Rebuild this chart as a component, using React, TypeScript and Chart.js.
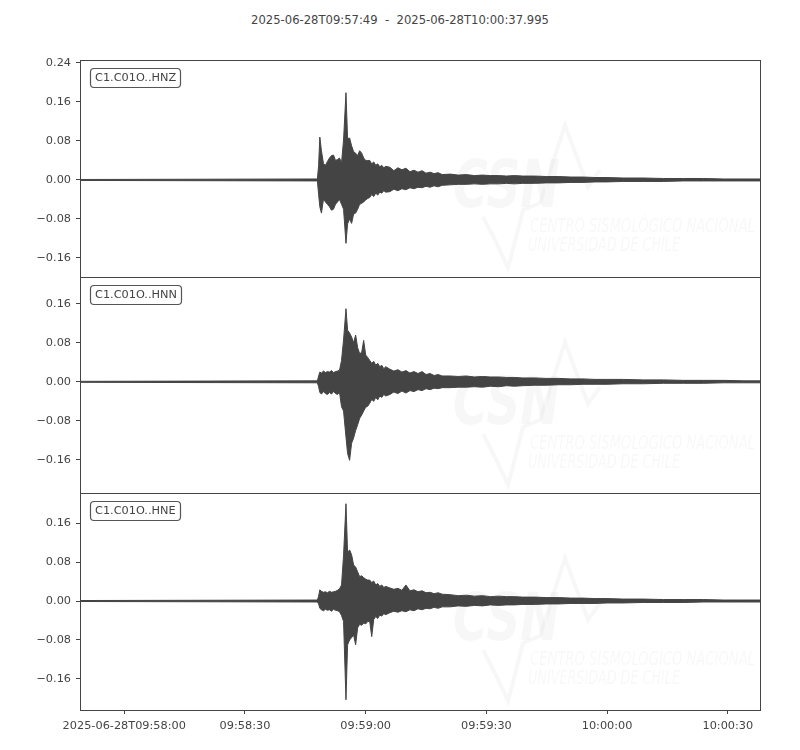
import React, { useEffect, useRef } from "react";
import { Chart, registerables } from "chart.js";

Chart.register(...registerables);

// ---------------- data ----------------
const TITLE = "2025-06-28T09:57:49  -  2025-06-28T10:00:37.995";
const CHANNELS = ["C1.C01O..HNZ", "C1.C01O..HNN", "C1.C01O..HNE"];

// seconds since 2025-06-28T09:57:49
const X_MAX = 168.995;
const X_TICK_SECONDS = [11, 41, 71, 101, 131, 161];
const X_TICK_LABELS = ["2025-06-28T09:58:00", "09:58:30", "09:59:00", "09:59:30", "10:00:00", "10:00:30"];

const Y_TICKS_HNZ = [-0.16, -0.08, 0, 0.08, 0.16, 0.24];
const Y_TICKS_HNN = [-0.16, -0.08, 0, 0.08, 0.16];
const Y_TICKS_HNE = [-0.16, -0.08, 0, 0.08, 0.16];
const Y_RANGE_HNZ = [-0.199, 0.246];
const Y_RANGE_HNN = [-0.228, 0.215];
const Y_RANGE_HNE = [-0.224, 0.222];

// time of each envelope sample (s since 09:57:49)
const TIMES = [
  0, 59.0, 59.3, 59.6, 60.0,
  60.5, 61.0, 61.5, 62.0, 62.5, 63.0, 63.5, 64.0, 64.5, 65.0, 65.5, 66.1, 66.5, 67.0, 67.5, 68.0,
  68.5, 69.0, 69.5, 70.0, 70.5, 71.0, 71.5, 72.0, 72.5, 73.0, 73.5, 74.0, 74.5, 75.0, 75.5, 76.0,
  77, 78, 79, 80, 81, 82, 83, 84, 85, 86, 87, 88, 89, 90,
  92, 94, 96, 98, 100, 102, 104, 106, 108, 110,
  113, 116, 119, 122, 125, 128, 131,
  135, 140, 145, 150, 155, 160, 165, 169,
];

// envelope of the trace (upper / lower)
const HNZ_UPPER = [
  0.001, 0.002, 0.03, 0.088, 0.06,
  0.034, 0.03, 0.038, 0.045, 0.05, 0.051, 0.04, 0.042, 0.045, 0.035, 0.082, 0.179, 0.085, 0.086, 0.07, 0.058,
  0.055, 0.05, 0.06, 0.055, 0.045, 0.04, 0.04, 0.04, 0.033, 0.037, 0.03, 0.033, 0.027, 0.03, 0.025, 0.028,
  0.026, 0.019, 0.025, 0.021, 0.024, 0.017, 0.02, 0.016, 0.019, 0.014, 0.016, 0.013, 0.015, 0.011,
  0.012, 0.01, 0.011, 0.009, 0.01, 0.009, 0.009, 0.008, 0.009, 0.008,
  0.008, 0.007, 0.007, 0.006, 0.006, 0.005, 0.005,
  0.004, 0.004, 0.003, 0.003, 0.003, 0.002, 0.002, 0.002,
];
const HNZ_LOWER = [
  -0.001, -0.002, -0.03, -0.055, -0.068,
  -0.04, -0.045, -0.05, -0.055, -0.062, -0.06, -0.05, -0.045, -0.04, -0.05, -0.06, -0.13, -0.09, -0.08, -0.089, -0.07,
  -0.068, -0.06, -0.05, -0.048, -0.045, -0.041, -0.038, -0.036, -0.03, -0.034, -0.027, -0.031, -0.025, -0.027, -0.022, -0.025,
  -0.024, -0.019, -0.022, -0.018, -0.02, -0.016, -0.018, -0.015, -0.016, -0.013, -0.015, -0.012, -0.014, -0.011,
  -0.01, -0.009, -0.009, -0.008, -0.009, -0.008, -0.008, -0.007, -0.008, -0.007,
  -0.007, -0.006, -0.006, -0.005, -0.005, -0.004, -0.004,
  -0.003, -0.003, -0.003, -0.002, -0.002, -0.002, -0.002, -0.002,
];
const HNN_UPPER = [
  0.001, 0.002, 0.012, 0.02, 0.018,
  0.022, 0.019, 0.021, 0.02, 0.023, 0.019, 0.021, 0.022, 0.024, 0.044, 0.086, 0.15, 0.106, 0.1, 0.092, 0.08,
  0.096, 0.07, 0.058, 0.06, 0.085, 0.055, 0.05, 0.044, 0.038, 0.042, 0.034, 0.038, 0.031, 0.034, 0.027, 0.031,
  0.026, 0.022, 0.025, 0.02, 0.023, 0.018, 0.021, 0.017, 0.021, 0.015, 0.017, 0.013, 0.015, 0.012,
  0.012, 0.011, 0.012, 0.01, 0.011, 0.01, 0.01, 0.009, 0.009, 0.008,
  0.008, 0.007, 0.007, 0.006, 0.006, 0.005, 0.005,
  0.005, 0.004, 0.004, 0.003, 0.003, 0.003, 0.002, 0.002,
];
const HNN_LOWER = [
  -0.001, -0.002, -0.01, -0.022, -0.025,
  -0.02, -0.024, -0.026, -0.022, -0.025, -0.02, -0.024, -0.026, -0.022, -0.051, -0.06, -0.113, -0.147, -0.161, -0.126, -0.115,
  -0.1, -0.088, -0.075, -0.068, -0.06, -0.052, -0.05, -0.044, -0.036, -0.04, -0.032, -0.037, -0.029, -0.032, -0.026, -0.029,
  -0.026, -0.021, -0.024, -0.019, -0.023, -0.018, -0.02, -0.016, -0.018, -0.014, -0.016, -0.013, -0.014, -0.012,
  -0.012, -0.011, -0.011, -0.01, -0.011, -0.009, -0.01, -0.008, -0.009, -0.008,
  -0.007, -0.007, -0.006, -0.006, -0.005, -0.005, -0.005,
  -0.004, -0.004, -0.003, -0.003, -0.003, -0.002, -0.002, -0.002,
];
const HNE_UPPER = [
  0.001, 0.002, 0.01, 0.023, 0.02,
  0.018, 0.019, 0.017, 0.02, 0.018, 0.019, 0.02, 0.022, 0.025, 0.033, 0.094, 0.2, 0.1, 0.105, 0.095, 0.074,
  0.07, 0.06, 0.05, 0.052, 0.048, 0.045, 0.043, 0.043, 0.038, 0.041, 0.033, 0.036, 0.03, 0.033, 0.028, 0.03,
  0.027, 0.024, 0.026, 0.022, 0.033, 0.021, 0.023, 0.019, 0.021, 0.017, 0.018, 0.015, 0.017, 0.014,
  0.013, 0.011, 0.012, 0.01, 0.011, 0.009, 0.01, 0.009, 0.009, 0.008,
  0.008, 0.007, 0.007, 0.006, 0.006, 0.005, 0.005,
  0.004, 0.004, 0.003, 0.003, 0.003, 0.002, 0.002, 0.002,
];
const HNE_LOWER = [
  -0.001, -0.002, -0.006, -0.015, -0.018,
  -0.02, -0.017, -0.019, -0.018, -0.021, -0.017, -0.019, -0.02, -0.022, -0.03, -0.042, -0.203, -0.09, -0.08, -0.075, -0.07,
  -0.09, -0.055, -0.048, -0.05, -0.045, -0.047, -0.042, -0.042, -0.073, -0.038, -0.032, -0.036, -0.029, -0.031, -0.026, -0.028,
  -0.024, -0.021, -0.023, -0.02, -0.022, -0.018, -0.02, -0.016, -0.018, -0.015, -0.016, -0.013, -0.015, -0.012,
  -0.012, -0.01, -0.011, -0.009, -0.01, -0.008, -0.009, -0.008, -0.008, -0.007,
  -0.007, -0.006, -0.006, -0.005, -0.005, -0.005, -0.004,
  -0.004, -0.003, -0.003, -0.003, -0.002, -0.002, -0.002, -0.002,
];

const SERIES = [
  { upper: HNZ_UPPER, lower: HNZ_LOWER, ticks: Y_TICKS_HNZ, range: Y_RANGE_HNZ },
  { upper: HNN_UPPER, lower: HNN_LOWER, ticks: Y_TICKS_HNN, range: Y_RANGE_HNN },
  { upper: HNE_UPPER, lower: HNE_LOWER, ticks: Y_TICKS_HNE, range: Y_RANGE_HNE },
];

// ---------------- layout / style ----------------
const PANEL_BOXES = [
  { top: 60, bottom: 277 },
  { top: 277, bottom: 493 },
  { top: 493, bottom: 710 },
];
const PLOT_LEFT = 80;
const PLOT_RIGHT = 760;
const WIDTH = 800;
const INK = "#444444";
const FONT_FAMILY = '"DejaVu Sans", sans-serif';
const FONT_SIZE = 11.3;

Chart.defaults.font.family = FONT_FAMILY;
Chart.defaults.font.size = FONT_SIZE;
Chart.defaults.color = INK;

function fmtY(v: number): string {
  if (Math.abs(v) < 1e-9) return "0.00";
  return v < 0 ? "\u2212" + Math.abs(v).toFixed(2) : v.toFixed(2);
}

const framePlugin = {
  id: "panelDecor",
  beforeDatasetsDraw(chart: any) {
    const { ctx, chartArea } = chart;
    const L = chartArea.left;
    const T = chartArea.top;
    ctx.save();
    ctx.beginPath();
    ctx.rect(chartArea.left, chartArea.top, chartArea.right - chartArea.left, chartArea.bottom - chartArea.top);
    ctx.clip();
    const wm = "rgba(0,0,0,0.03)";
    // CSN logo watermark
    ctx.fillStyle = wm;
    ctx.font = 'bold italic 66px "DejaVu Sans"';
    const csnW = ctx.measureText("CSN").width;
    ctx.save();
    ctx.translate(L + 373, T + 147);
    ctx.scale(107 / csnW, 1);
    ctx.fillText("CSN", 0, 0);
    ctx.restore();
    ctx.font = 'italic 20px "DejaVu Sans Condensed", "DejaVu Sans"';
    const l1 = "CENTRO SISMOLÓGICO NACIONAL";
    const l2 = "UNIVERSIDAD DE CHILE";
    const w1 = ctx.measureText(l1).width;
    const w2 = ctx.measureText(l2).width;
    ctx.save();
    ctx.translate(L + 450, T + 172);
    ctx.scale(225 / w1, 1);
    ctx.fillText(l1, 0, 0);
    ctx.restore();
    ctx.save();
    ctx.translate(L + 448, T + 191);
    ctx.scale(152 / w2, 1);
    ctx.fillText(l2, 0, 0);
    ctx.restore();
    ctx.strokeStyle = wm;
    ctx.lineWidth = 4;
    ctx.lineJoin = "miter";
    ctx.beginPath();
    ctx.moveTo(L + 403, T + 157);
    ctx.lineTo(L + 415, T + 180);
    ctx.lineTo(L + 428, T + 208);
    ctx.lineTo(L + 443, T + 150);
    ctx.lineTo(L + 460, T + 143);
    ctx.lineTo(L + 485, T + 65);
    ctx.lineTo(L + 508, T + 127);
    ctx.lineTo(L + 520, T + 110);
    ctx.stroke();
    ctx.restore();
  },
  afterDraw(chart: any, _args: any, opts: any) {
    const { ctx, chartArea } = chart;
    ctx.save();
    // frame
    ctx.strokeStyle = INK;
    ctx.lineWidth = 1;
    ctx.strokeRect(
      Math.round(chartArea.left) + 0.5,
      Math.round(chartArea.top) + 0.5,
      Math.round(chartArea.right - chartArea.left),
      Math.round(chartArea.bottom - chartArea.top)
    );
    // channel label
    const text = opts.label as string;
    ctx.font = `${FONT_SIZE}px ${FONT_FAMILY}`;
    const tw = ctx.measureText(text).width;
    const x0 = Math.round(chartArea.left) + 10.5;
    const y0 = Math.round(chartArea.top) + 8.5;
    const bw = Math.round(tw + 9);
    const bh = 19;
    ctx.beginPath();
    (ctx as any).roundRect(x0, y0, bw, bh, 3.5);
    ctx.fillStyle = "#ffffff";
    ctx.fill();
    ctx.strokeStyle = "#555555";
    ctx.lineWidth = 1.2;
    ctx.stroke();
    ctx.fillStyle = INK;
    ctx.textBaseline = "middle";
    ctx.textAlign = "left";
    ctx.fillText(text, x0 + 4.5, y0 + bh / 2 + 0.5);
    ctx.restore();
  },
};

function Panel({ index }: { index: number }) {
  const ref = useRef<HTMLCanvasElement | null>(null);
  const box = PANEL_BOXES[index];
  const isLast = index === PANEL_BOXES.length - 1;
  const padTop = 20;
  const padBottom = isLast ? 0 : 16;
  const xAxisH = isLast ? 40 : 0;
  const canvasTop = box.top - padTop;
  const canvasH = box.bottom - box.top + padTop + padBottom + xAxisH;

  useEffect(() => {
    const s = SERIES[index];
    const upper = TIMES.map((t, i) => ({ x: t, y: s.upper[i] }));
    const lower = TIMES.map((t, i) => ({ x: t, y: s.lower[i] }));
    const chart = new Chart(ref.current as HTMLCanvasElement, {
      type: "line",
      data: {
        datasets: [
          {
            data: upper,
            borderColor: INK,
            borderWidth: 1,
            pointRadius: 0,
            tension: 0,
            fill: false,
          },
          {
            data: lower,
            borderColor: INK,
            backgroundColor: INK,
            borderWidth: 1,
            pointRadius: 0,
            tension: 0,
            fill: "-1",
          },
        ],
      },
      options: {
        animation: false,
        responsive: false,
        events: [],
        layout: { padding: { left: 0, right: WIDTH - PLOT_RIGHT, top: padTop, bottom: padBottom } },
        plugins: {
          legend: { display: false },
          tooltip: { enabled: false },
          title: { display: false },
          panelDecor: { label: CHANNELS[index] },
        } as any,
        scales: {
          x: {
            type: "linear",
            display: isLast,
            min: 0,
            max: X_MAX,
            afterBuildTicks: (sc: any) => {
              sc.ticks = X_TICK_SECONDS.map((v) => ({ value: v }));
            },
            afterFit: (sc: any) => {
              sc.height = xAxisH;
            },
            grid: {
              display: true,
              drawOnChartArea: false,
              drawTicks: true,
              tickLength: 4,
              tickColor: INK,
              tickWidth: 1,
            },
            border: { display: false },
            ticks: {
              autoSkip: false,
              maxRotation: 0,
              minRotation: 0,
              padding: 5,
              color: INK,
              callback: (v: any) => {
                const i = X_TICK_SECONDS.indexOf(Number(v));
                return i >= 0 ? X_TICK_LABELS[i] : "";
              },
            },
          },
          y: {
            type: "linear",
            min: s.range[0],
            max: s.range[1],
            afterBuildTicks: (sc: any) => {
              sc.ticks = s.ticks.map((v) => ({ value: v }));
            },
            afterFit: (sc: any) => {
              sc.width = PLOT_LEFT;
              sc.paddingTop = 0;
              sc.paddingBottom = 0;
            },
            grid: {
              display: true,
              drawOnChartArea: false,
              drawTicks: true,
              tickLength: 4,
              tickColor: INK,
              tickWidth: 1,
            },
            border: { display: false },
            ticks: {
              autoSkip: false,
              padding: 5,
              color: INK,
              callback: (v: any) => fmtY(Number(v)),
            },
          },
        },
      },
      plugins: [framePlugin],
    });
    return () => chart.destroy();
  }, [index]);

  return (
    <canvas
      ref={ref}
      width={WIDTH}
      height={canvasH}
      style={{ position: "absolute", left: 0, top: canvasTop, width: WIDTH, height: canvasH }}
    />
  );
}

export default function App() {
  return (
    <div style={{ position: "absolute", left: 0, top: 0, width: WIDTH, height: 750, background: "#ffffff" }}>
      <div
        style={{
          position: "absolute",
          left: 0,
          top: 12,
          width: WIDTH,
          textAlign: "center",
          fontFamily: FONT_FAMILY,
          fontSize: 11.6,
          lineHeight: "16px",
          color: INK,
          whiteSpace: "pre",
        }}
      >
        {TITLE}
      </div>
      {PANEL_BOXES.map((_, i) => (
        <Panel key={i} index={i} />
      ))}
    </div>
  );
}
